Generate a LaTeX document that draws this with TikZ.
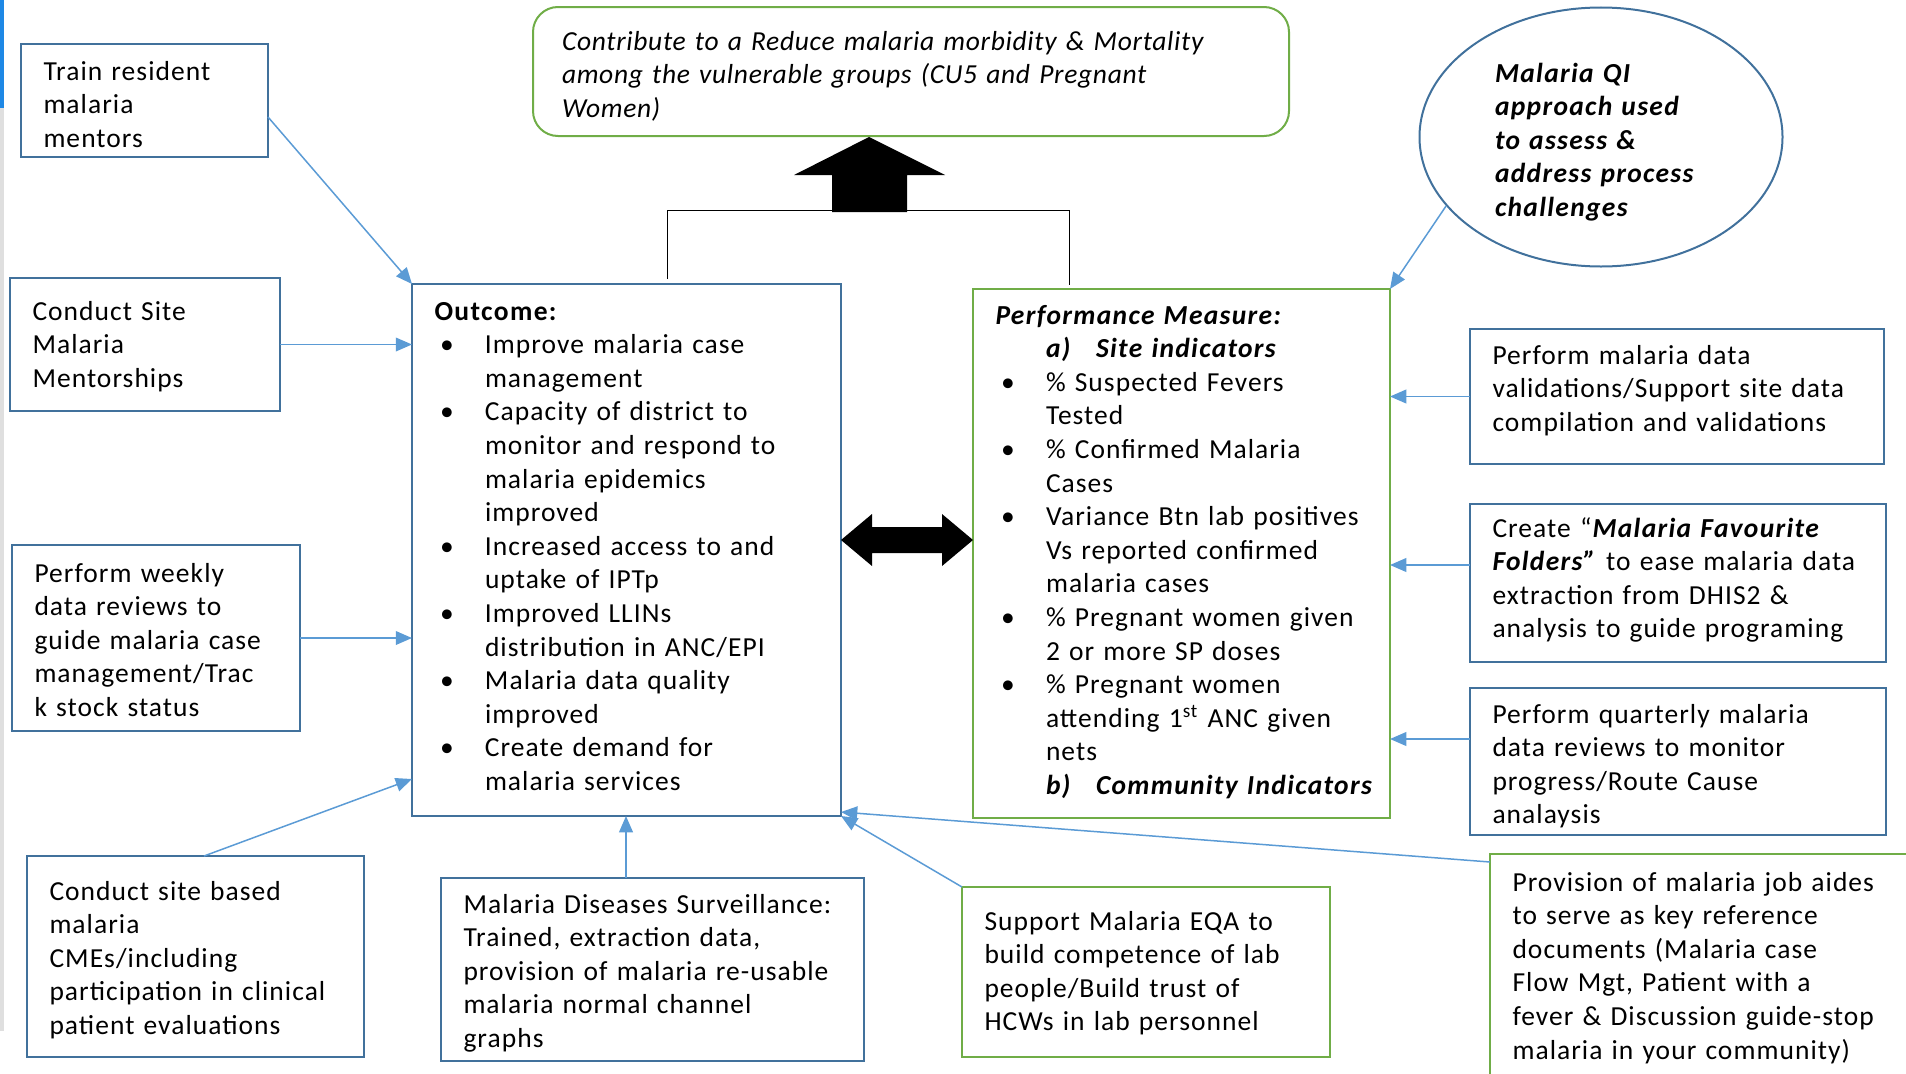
\documentclass[tikz,border=0pt]{standalone}
\usepackage{fontspec}
\setmainfont{Carlito}[LetterSpace=3.8,BoldFeatures={LetterSpace=5},
  ItalicFeatures={LetterSpace=2.5},BoldItalicFeatures={LetterSpace=4.8}]
\usepackage{tikz}
\usetikzlibrary{arrows.meta, shapes.geometric}
\definecolor{boxblue}{HTML}{41719C}
\definecolor{boxgreen}{HTML}{70AD47}
\definecolor{arrblue}{HTML}{5B9BD5}
\definecolor{edgeblue}{HTML}{1E88E5}
\newcommand{\boxfont}{\fontsize{11pt}{13.44pt}\selectfont}
\newcommand{\bulpt}{\makebox[20.2pt][l]{\hspace{2.2pt}\textbullet}}
\newcommand{\bulsp}{\hspace*{20.2pt}}
\newcommand{\bulab}[1]{\makebox[20pt][l]{#1}}

\begin{document}
\begin{tikzpicture}[x=0.4pt,y=-0.4pt,
  every node/.style={font=\boxfont},
  bbox/.style={draw=boxblue,line width=0.8pt,anchor=north west,align=left,
    inner xsep=9pt,inner ysep=0pt,outer sep=0pt},
  gbox/.style={bbox,draw=boxgreen},
  sz/.style n args={3}{text width=#1,text height=#2,text depth=#3},
  link/.style={draw=arrblue,line width=0.6pt,-{Triangle[length=6.5pt,width=5.5pt]}},
  bar/.style={draw=black,line width=0.4pt}]
 \useasboundingbox (0,0) rectangle (1906,1073);
 \clip (0,0) rectangle (1906,1073);
 \fill[edgeblue] (0,0) rectangle (4,108);
 \fill[gray!25] (0,108) rectangle (4,1031);
 \node[gbox,rounded corners=10pt,inner xsep=11.6pt,sz={279.2pt}{17.2pt}{34.4pt},
   font=\boxfont\itshape] (goal) at (533,7)
   {Contribute to a Reduce malaria morbidity \& Mortality\\among the vulnerable groups (CU5 and Pregnant\\Women)};
 \node[draw=boxblue,line width=0.8pt,ellipse,minimum width=145.2pt,minimum height=103.6pt,
   inner sep=0pt,align=left,text width=84.8pt,text height=12pt,text depth=56pt,
   font=\boxfont\bfseries\itshape] (qi) at (1601,137)
   {Malaria QI\\approach used\\to assess \&\\address process\\challenges};
 \node[bbox,sz={80.8pt}{14.4pt}{30.8pt}] (train) at (21,44) {Train resident\\malaria\\mentors};
 \node[bbox,sz={90pt}{16.8pt}{36.4pt}] (site) at (10,278) {Conduct Site\\Malaria\\Mentorships};
 \node[bbox,sz={97.2pt}{14.8pt}{59.6pt}] (weekly) at (12,545)
   {Perform weekly\\data reviews to\\guide malaria case\\management/Trac\\k stock status};
 \node[bbox,sz={116.8pt}{17.6pt}{62.8pt}] (cme) at (27,856)
   {Conduct site based\\malaria\\CMEs/including\\participation in clinical\\patient evaluations};
 \node[bbox,sz={151.2pt}{14pt}{59.2pt}] (surv) at (441,878)
   {\mbox{Malaria Diseases Surveillance:}\\Trained, extraction data,\\\mbox{provision of malaria re-usable}\\malaria normal channel\\graphs};
 \node[gbox,sz={129.2pt}{17.2pt}{50.8pt}] (eqa) at (962,887)
   {Support Malaria EQA to\\build competence of lab\\people/Build trust of\\HCWs in lab personnel};
 \node[gbox,sz={158pt}{14.8pt}{81.2pt}] (job) at (1490,854)
   {Provision of malaria job aides\\to serve as key reference\\documents (Malaria case\\Flow Mgt, Patient with a\\fever \& Discussion guide-stop\\malaria in your community)};
 \node[bbox,sz={147.6pt}{14pt}{40pt}] (valid) at (1470,329)
   {Perform malaria data\\\mbox{validations/Support site data}\\compilation and validations};
 \node[bbox,sz={148.4pt}{13.2pt}{50pt}] (fav) at (1470,504)
   {Create “\textbf{\textit{Malaria Favourite}}\\\textbf{\textit{Folders”}} to ease malaria data\\extraction from DHIS2 \&\\analysis to guide programing};
 \node[bbox,sz={148.4pt}{14pt}{44.8pt}] (quart) at (1470,688)
   {Perform quarterly malaria\\data reviews to monitor\\progress/Route Cause\\analaysis};
 \node[bbox,sz={153.6pt}{14.4pt}{198.4pt}] (outcome) at (412,284)
   {\textbf{Outcome:}\\
    \bulpt Improve malaria case\\\bulsp management\\
    \bulpt Capacity of district to\\\bulsp monitor and respond to\\\bulsp malaria epidemics\\\bulsp improved\\
    \bulpt Increased access to and\\\bulsp uptake of IPTp\\
    \bulpt Improved LLINs\\\bulsp distribution in ANC/EPI\\
    \bulpt Malaria data quality\\\bulsp improved\\
    \bulpt Create demand for\\\bulsp malaria services};
 \node[gbox,sz={148.8pt}{14pt}{197.6pt}] (pm) at (973,289)
   {\textbf{\textit{Performance Measure:}}\\
    \bulsp\textbf{\textit{\bulab{a)}Site indicators}}\\
    \bulpt \% Suspected Fevers\\\bulsp Tested\\
    \bulpt \% Confirmed Malaria\\\bulsp Cases\\
    \bulpt \mbox{Variance Btn lab positives}\\\bulsp Vs reported confirmed\\\bulsp malaria cases\\
    \bulpt \mbox{\% Pregnant women given}\\\bulsp 2 or more SP doses\\
    \bulpt \% Pregnant women\\\bulsp attending 1\textsuperscript{st} ANC given\\\bulsp nets\\
    \bulsp\mbox{\textbf{\textit{\bulab{b)}Community Indicators}}}};
 \draw[bar] ([xshift=16.2pt,yshift=2pt]outcome.north) -- ++(0,-69) -| ([xshift=-45pt,yshift=1.6pt]pm.north);
 \fill ([xshift=-16.8pt,yshift=-0.4pt]goal.south) -- ++(-75,38) -- ++(38,0) -- ++(0,37)
   -- ++(75,0) -- ++(0,-37) -- ++(38,0) -- cycle;
 \fill ([yshift=4pt]outcome.east) -- ++(31,-26) -- ++(0,13) -- ++(70,0) -- ++(0,-13)
   -- ++(31,26) -- ++(-31,26) -- ++(0,-13) -- ++(-70,0) -- ++(0,13) -- cycle;
 \draw[link] ([yshift=-6.6pt]train.east) -- (outcome.north west);
 \draw[link] (site.east) -- (site.east -| outcome.west);
 \draw[link] (weekly.east) -- (weekly.east -| outcome.west);
 \draw[link] ([xshift=3.4pt]cme.north) -- ([yshift=14.8pt]outcome.south west);
 \draw[link] ([xshift=-10.6pt]surv.north) -- ([xshift=-10.6pt]surv.north |- outcome.south);
 \draw[link] (eqa.north west) -- (outcome.south east);
 \draw[link] ([yshift=-3.2pt]job.north west) -- ([yshift=1.6pt]outcome.south east);
 \draw[link] (qi.204) -- (pm.north east);
 \draw[link] (valid.west) -- (valid.west -| pm.east);
 \draw[link] ([yshift=7.2pt]fav.west) -- ([yshift=7.2pt]fav.west -| pm.east);
 \draw[link] ([yshift=9pt]quart.west) -- ([yshift=9pt]quart.west -| pm.east);
\end{tikzpicture}
\end{document}
